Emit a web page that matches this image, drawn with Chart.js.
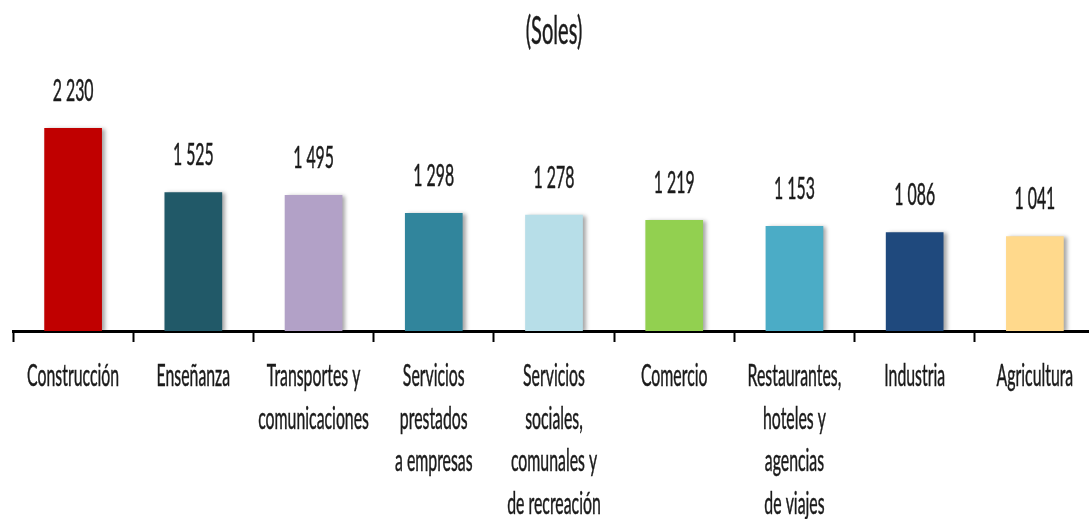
<!DOCTYPE html>
<html>
<head>
<meta charset="utf-8">
<script src="https://cdn.jsdelivr.net/npm/chart.js@4"></script>
<style>
  html, body { margin: 0; padding: 0; background: #fff; overflow: hidden; }
  #wrap { position: relative; width: 1098px; height: 519px; }
</style>
</head>
<body>
<div id="wrap"><canvas id="grafico"></canvas></div>
<script>
const titulo = '(Soles)'
const categorias = [
    ['Construcción'],
    ['Enseñanza'],
    ['Transportes y', 'comunicaciones'],
    ['Servicios', 'prestados', 'a empresas'],
    ['Servicios', 'sociales,', 'comunales y', 'de recreación'],
    ['Comercio'],
    ['Restaurantes,', 'hoteles y', 'agencias', 'de viajes'],
    ['Industria'],
    ['Agricultura']
]
const ingresos = [2230, 1525, 1495, 1298, 1278, 1219, 1153, 1086, 1041]
const etiquetas = ['2 230', '1 525', '1 495', '1 298', '1 278', '1 219', '1 153', '1 086', '1 041']
const colores = ['#C00000', '#215968', '#B2A1C7', '#31859C', '#B7DEE8', '#92D050', '#4BACC6', '#1F497D', '#FFD98C']

const fuente = "Lato, 'Open Sans', sans-serif"
const colorTexto = '#1b1b1b'

// texto estrecho (la fuente original es muy condensada)
var escalaX = 1
const textoEstrecho = (c, texto, x, y) => {
    c.save()
    c.translate(x, y)
    c.scale(escalaX, 1)
    c.fillText(texto, 0, 0)
    c.strokeText(texto, 0, 0)
    c.restore()
}

// sombra de las barras
const sombra = {
    id: 'sombra',
    beforeDatasetDraw(chart) {
        const c = chart.ctx
        c.save()
        c.shadowColor = 'rgba(0,0,0,0.35)'
        c.shadowOffsetX = 3
        c.shadowOffsetY = 1
        c.shadowBlur = 4
    },
    afterDatasetDraw(chart) {
        chart.ctx.restore()
    }
}

// titulo, valores y nombres de categoria
const textos = {
    id: 'textos',
    afterDraw(chart) {
        const c = chart.ctx
        const meta = chart.getDatasetMeta(0)
        const xScale = chart.scales.x
        const area = chart.chartArea

        c.save()
        c.fillStyle = colorTexto
        c.strokeStyle = colorTexto
        c.lineWidth = 0.5
        c.textAlign = 'center'
        c.textBaseline = 'alphabetic'

        c.font = '30px ' + fuente
        escalaX = 92 / c.measureText('Construcción').width

        // valores encima de cada barra
        meta.data.forEach((bar, i) => {
            textoEstrecho(c, etiquetas[i], bar.x, bar.y - 27)
        })

        // categorias
        categorias.forEach((lineas, i) => {
            const x = xScale.getPixelForValue(i)
            lineas.forEach((l, j) => {
                textoEstrecho(c, l, x, area.bottom + 55 + j * 42.7)
            })
        })

        // titulo
        c.font = '38px ' + fuente
        textoEstrecho(c, titulo, (area.left + area.right) / 2, 44)
        c.restore()
    }
}

const ctx = document.getElementById('grafico')

new Chart(ctx, {
    type: 'bar',
    data: {
        labels: categorias,
        datasets: [{
            data: ingresos,
            backgroundColor: colores,
            borderWidth: 0,
            barPercentage: 0.48,
            categoryPercentage: 1
        }]
    },
    options: {
        responsive: true,
        maintainAspectRatio: false,
        animation: false,
        layout: { padding: { left: 13, right: 3, top: 58, bottom: 0 } },
        plugins: {
            legend: { display: false },
            tooltip: { enabled: false },
            title: { display: false }
        },
        scales: {
            y: {
                display: false,
                min: 0,
                max: 3000
            },
            x: {
                offset: true,
                afterFit: (scale) => { scale.height = 188 },
                border: { display: true, color: '#000', width: 3 },
                grid: {
                    offset: true,
                    drawOnChartArea: false,
                    drawTicks: true,
                    tickLength: 11,
                    tickWidth: 2,
                    tickColor: '#000'
                },
                ticks: { display: false }
            }
        }
    },
    plugins: [sombra, textos]
})
</script>
</body>
</html>
